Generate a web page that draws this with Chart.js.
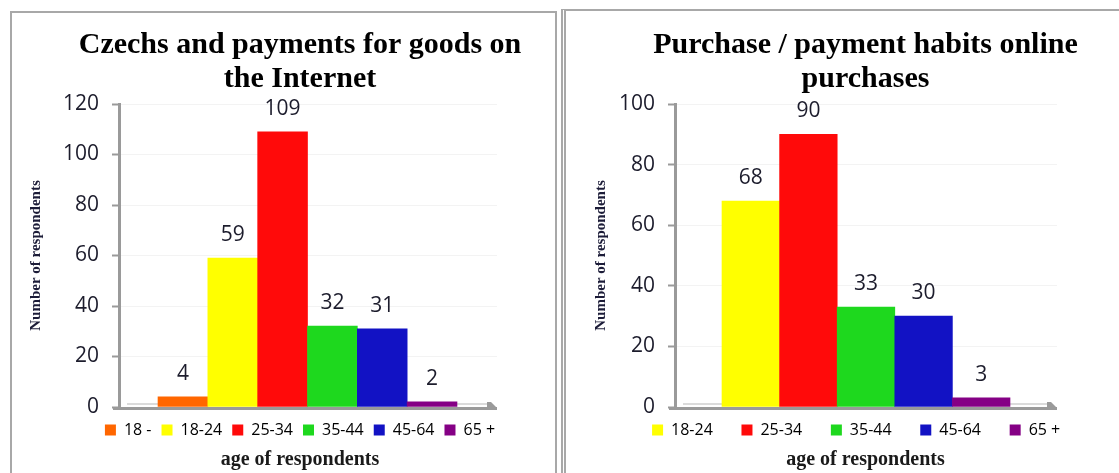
<!DOCTYPE html>
<html>
<head>
<meta charset="utf-8">
<title>Czechs and online payments</title>
<script src="https://cdn.jsdelivr.net/npm/chart.js@4.4.1/dist/chart.umd.min.js"></script>
<style>
  body { margin: 0; width: 1119px; height: 473px; background: #fff; overflow: hidden; position: relative; }
  .panel { position: absolute; box-sizing: border-box; }
  #panel1 { left: 10px; top: 11px; width: 547px; height: 480px; border: 2px solid #a8a8a8; }
  #panel2 { left: 561px; top: 9px; width: 580px; height: 480px; border-top: 2px solid #a8a8a8; border-left: 5px double #a8a8a8; }
  canvas { position: absolute; top: 0; }
  #chart1 { left: 0; }
  #chart2 { left: 562px; }
</style>
</head>
<body>
<div class="panel" id="panel1"></div>
<div class="panel" id="panel2"></div>
<canvas id="chart1" width="559" height="473"></canvas>
<canvas id="chart2" width="557" height="473"></canvas>

<script>
// ---- data, left chart
const title1 = ['Czechs and payments for goods on', 'the Internet'];
const ageGroups1 = ['18 -', '18-24', '25-34', '35-44', '45-64', '65 +'];
const respondents1 = [4, 59, 109, 32, 31, 2];
const yMax1 = 120;

// ---- data, right chart
const title2 = ['Purchase / payment habits online', 'purchases'];
const ageGroups2 = ['18-24', '25-34', '35-44', '45-64', '65 +'];
const respondents2 = [68, 90, 33, 30, 3];
const yMax2 = 100;

const yStep = 20;
const yTitle = 'Number of respondents';
const xTitle = 'age of respondents';

const ageColors = {
    '18 -': '#ff6600',
    '18-24': '#ffff00',
    '25-34': '#ff0a0a',
    '35-44': '#1ed81e',
    '45-64': '#1212c4',
    '65 +': '#850085'
};

Chart.defaults.font.family = '"Open Sans", "Liberation Sans", sans-serif';
Chart.defaults.color = '#1c1c2c';

const serif = '"Liberation Serif", "DejaVu Serif", serif';
const axisGray = '#9a9a9a';

// excel-like 3d floor under the bars
const floor3d = {
    id: 'floor3d',
    beforeDatasetsDraw(chart) {
        const {ctx, chartArea: {left, right, bottom}} = chart;
        ctx.save();
        // back edge of the floor
        ctx.strokeStyle = '#cfcfcf';
        ctx.lineWidth = 1.5;
        ctx.beginPath();
        ctx.moveTo(left + 8, bottom - 3);
        ctx.lineTo(right - 9, bottom - 3);
        ctx.stroke();
        // front edge
        ctx.strokeStyle = axisGray;
        ctx.lineWidth = 3;
        ctx.beginPath();
        ctx.moveTo(left - 6, bottom + 1.5);
        ctx.lineTo(right, bottom + 1.5);
        ctx.stroke();
        // little corner on the right
        ctx.fillStyle = axisGray;
        ctx.beginPath();
        ctx.moveTo(right - 10, bottom - 5);
        ctx.lineTo(right - 6, bottom - 5);
        ctx.lineTo(right, bottom + 1);
        ctx.lineTo(right - 10, bottom + 1);
        ctx.closePath();
        ctx.fill();
        ctx.restore();
    }
};

// number above every bar
const valueLabels = {
    id: 'valueLabels',
    afterDatasetsDraw(chart) {
        const {ctx} = chart;
        const ds = chart.data.datasets[0];
        ctx.save();
        ctx.font = '21px "Open Sans", "Liberation Sans", sans-serif';
        ctx.fillStyle = '#1c1c2c';
        ctx.textAlign = 'center';
        ctx.textBaseline = 'middle';
        chart.getDatasetMeta(0).data.forEach((bar, i) => {
            ctx.fillText(ds.data[i].y, bar.x, bar.y - 23);
        });
        ctx.restore();
    }
};

function makeChart(canvasId, s) {
    const colors = s.labels.map(l => ageColors[l]);

    return new Chart(document.getElementById(canvasId), {
        type: 'bar',
        data: {
            datasets: [{
                data: s.values.map((v, i) => ({x: i, y: v})),
                backgroundColor: colors,
                borderWidth: 0,
                barPercentage: 1,
                categoryPercentage: 1
            }]
        },
        options: {
            responsive: false,
            animation: false,
            layout: {padding: {left: s.padLeft, right: s.padRight, top: 0, bottom: 0}},
            scales: {
                x: {
                    type: 'linear',
                    offset: false,
                    min: s.xMin,
                    max: s.xMax,
                    ticks: {display: false, stepSize: 1, includeBounds: false},
                    grid: {display: false},
                    border: {display: false},
                    afterFit: a => { a.height = 5; }
                },
                y: {
                    min: 0,
                    max: s.yMax,
                    ticks: {stepSize: yStep, padding: 13, font: {size: 21}, color: '#1c1c2c'},
                    grid: {color: '#f3f3f3', tickColor: axisGray, tickLength: 7, tickWidth: 2},
                    border: {color: axisGray, width: 3},
                    title: {
                        display: true,
                        text: yTitle,
                        color: '#1c1c38',
                        font: {family: serif, size: 15, weight: 'bold'},
                        padding: {top: s.yTitlePad, bottom: 0}
                    },
                    afterFit: a => { a.width = s.axisWidth; }
                },
                // empty axis, only keeps some room on the right so the titles stay centred
                yRight: {
                    position: 'right',
                    display: true,
                    ticks: {display: false},
                    grid: {display: false},
                    border: {display: false},
                    afterFit: a => { a.width = s.rightWidth; }
                }
            },
            plugins: {
                title: {
                    display: true,
                    text: s.title,
                    color: '#000',
                    font: {family: serif, size: 30, weight: 'bold', lineHeight: 34 / 30},
                    padding: {top: 28, bottom: 8}
                },
                subtitle: {
                    display: true,
                    position: 'bottom',
                    text: xTitle,
                    color: '#1a1a1a',
                    font: {family: serif, size: 20, weight: 'bold'},
                    padding: {top: 0, bottom: 1}
                },
                legend: {
                    position: 'bottom',
                    labels: {
                        boxWidth: 11,
                        boxHeight: 11,
                        padding: 10,
                        color: '#1c1c2c',
                        font: {size: 16},
                        generateLabels: () => s.labels.map((t, i) => ({
                            text: t + s.legendGap,
                            fillStyle: colors[i],
                            strokeStyle: colors[i],
                            lineWidth: 0,
                            hidden: false,
                            index: i
                        }))
                    }
                },
                tooltip: {enabled: false}
            }
        },
        plugins: [floor3d, valueLabels]
    });
}

makeChart('chart1', {
    title: title1, labels: ageGroups1, values: respondents1, yMax: yMax1,
    xMin: -1.283, xMax: 6.303,
    padLeft: 55, axisWidth: 64, rightWidth: 48, padRight: 14,
    yTitlePad: -28, legendGap: ''
});

makeChart('chart2', {
    title: title2, labels: ageGroups2, values: respondents2, yMax: yMax2,
    xMin: -1.316, xMax: 5.316,
    padLeft: 50, axisWidth: 63, rightWidth: 62, padRight: 0,
    yTitlePad: -20, legendGap: '\u2003\u2009'
});
</script>
</body>
</html>
